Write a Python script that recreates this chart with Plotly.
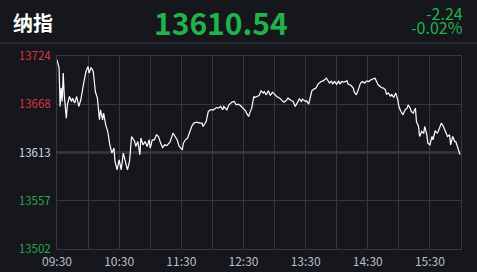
import pandas as pd
import plotly.graph_objects as go

title = "纳指"
last_price = "13610.54"
change = "-2.24"
change_pct = "-0.02%"
prev_close = 13612.78

times = [
    "09:30", "09:32", "09:33", "09:34", "09:35", "09:36", "09:37", "09:38", "09:39", "09:40",
    "09:42", "09:44", "09:45", "09:47", "09:49", "09:51", "09:53", "09:56", "09:58", "10:00",
    "10:01", "10:03", "10:05", "10:07", "10:09", "10:11", "10:12", "10:14", "10:15", "10:17",
    "10:19", "10:21", "10:23", "10:25", "10:26", "10:28", "10:30", "10:32", "10:34", "10:36",
    "10:38", "10:40", "10:42", "10:45", "10:46", "10:48", "10:50", "10:51", "10:53", "10:55",
    "10:57", "10:59", "11:00", "11:02", "11:04", "11:06", "11:08", "11:10", "11:12", "11:14",
    "11:16", "11:19", "11:21", "11:22", "11:24", "11:26", "11:28", "11:31", "11:32", "11:34",
    "11:36", "11:38", "11:40", "11:42", "11:45", "11:48", "11:50", "11:51", "11:54", "11:56",
    "11:58", "12:01", "12:04", "12:06", "12:08", "12:10", "12:11", "12:14", "12:16", "12:19",
    "12:21", "12:23", "12:25", "12:27", "12:30", "12:32", "12:33", "12:35", "12:36", "12:38",
    "12:40", "12:41", "12:43", "12:45", "12:47", "12:49", "12:50", "12:52", "12:54", "12:56",
    "12:58", "13:01", "13:02", "13:05", "13:07", "13:09", "13:11", "13:13", "13:16", "13:18",
    "13:20", "13:22", "13:24", "13:26", "13:27", "13:30", "13:31", "13:33", "13:35", "13:36",
    "13:38", "13:40", "13:42", "13:45", "13:47", "13:49", "13:50", "13:51", "13:53", "13:55",
    "13:56", "13:58", "14:00", "14:02", "14:03", "14:05", "14:07", "14:10", "14:11", "14:14",
    "14:16", "14:17", "14:19", "14:20", "14:22", "14:23", "14:25", "14:27", "14:29", "14:31",
    "14:33", "14:35", "14:37", "14:40", "14:43", "14:45", "14:47", "14:48", "14:50", "14:52",
    "14:53", "14:55", "14:57", "14:59", "15:00", "15:02", "15:04", "15:06", "15:08", "15:09",
    "15:11", "15:12", "15:14", "15:16", "15:17", "15:19", "15:20", "15:22", "15:24", "15:25",
    "15:27", "15:28", "15:30", "15:32", "15:33", "15:35", "15:37", "15:38", "15:40", "15:41",
    "15:43", "15:45", "15:47", "15:49", "15:50", "15:52", "15:54", "15:55", "15:56", "15:58",
    "15:59",
]

values = [
    13719.4, 13709.9, 13665.7, 13687.2, 13671.4, 13704.1, 13679.1, 13664.2, 13652.3, 13667.6,
    13677.2, 13671.4, 13675.3, 13669.6, 13677.2, 13665.7, 13673.4, 13694.4, 13705.9, 13711.7,
    13704.1, 13710.5, 13705.9, 13682.9, 13675.3, 13650.4, 13661.9, 13650.4, 13658.1, 13644.6,
    13636.9, 13621.6, 13612.1, 13617.8, 13602.4, 13592.9, 13604.4, 13592.9, 13612.1, 13602.4,
    13592.9, 13602.4, 13631.2, 13625.4, 13619.7, 13625.4, 13610.1, 13629.3, 13621.6, 13625.4,
    13619.7, 13627.4, 13617.8, 13627.4, 13627.4, 13633.1, 13631.2, 13623.6, 13618.5, 13621.6,
    13620.8, 13624.7, 13633.1, 13635.1, 13631.2, 13627.4, 13619.7, 13615.9, 13623.6, 13627.4,
    13629.3, 13636.9, 13642.7, 13646.6, 13647.7, 13646.6, 13646.6, 13642.7, 13648.4, 13659.9,
    13661.9, 13661.9, 13664.5, 13663.8, 13665.7, 13661.9, 13665.7, 13661.9, 13667.6, 13670.7,
    13671.4, 13667.6, 13668.4, 13666.8, 13663.8, 13660.7, 13658.1, 13654.2, 13658.1, 13663.8,
    13677.2, 13676.0, 13677.2, 13678.3, 13683.7, 13681.1, 13682.9, 13679.1, 13683.7, 13678.3,
    13682.2, 13679.1, 13677.2, 13675.3, 13673.4, 13670.7, 13672.2, 13675.3, 13672.6, 13671.4,
    13665.7, 13669.6, 13674.5, 13671.4, 13674.2, 13671.4, 13672.2, 13668.4, 13677.2, 13683.7,
    13685.7, 13686.8, 13691.4, 13694.4, 13695.2, 13697.5, 13698.3, 13696.4, 13692.6, 13695.2,
    13691.4, 13694.4, 13691.4, 13695.2, 13691.4, 13694.4, 13693.7, 13695.2, 13691.4, 13689.8,
    13686.8, 13682.2, 13679.1, 13682.2, 13688.7, 13692.6, 13694.4, 13692.6, 13695.2, 13694.4,
    13696.4, 13697.5, 13698.3, 13690.7, 13687.5, 13686.8, 13684.9, 13679.9, 13681.1, 13677.2,
    13679.9, 13676.0, 13681.1, 13673.4, 13665.7, 13659.9, 13656.1, 13661.9, 13663.8, 13667.6,
    13663.8, 13659.9, 13658.1, 13663.8, 13648.4, 13642.7, 13631.2, 13636.9, 13635.1, 13642.7,
    13633.1, 13623.6, 13621.6, 13631.2, 13627.4, 13637.8, 13635.1, 13636.9, 13642.7, 13646.6,
    13642.7, 13636.9, 13631.2, 13633.1, 13621.6, 13631.2, 13625.4, 13625.4, 13621.6, 13615.9,
    13610.54,
]

y_ticks = [13501.78, 13557.28, 13612.78, 13668.28, 13723.78]
y_tick_labels = ["13502", "13557", "13613", "13668", "13724"]
y_tick_colors = ["#2aa552", "#2aa552", "#d4dbe6", "#d8353f", "#d8353f"]

x_grid_times = ["09:30", "10:00", "10:30", "11:00", "11:30", "12:00", "12:30", "13:00",
                "13:30", "14:00", "14:30", "15:00", "15:30", "16:00"]
x_tick_labels = ["09:30", "", "10:30", "", "11:30", "", "12:30", "", "13:30", "", "14:30", "",
                 "15:30", ""]

DAY = "2023-06-01 "
xs = pd.to_datetime([DAY + t for t in times])
xgrid = pd.to_datetime([DAY + t for t in x_grid_times])

BG = "#15171c"
GRID = "#35383e"
FONT = "Noto Sans CJK SC"
GREEN = "#22b24c"

fig = go.Figure()
fig.add_trace(go.Scatter(x=xs, y=values, mode="lines",
                         line=dict(color="#ffffff", width=1.2), hoverinfo="skip"))

fig.update_layout(
    width=477, height=272,
    margin=dict(l=57, r=16, t=56, b=23),
    paper_bgcolor=BG, plot_bgcolor=BG,
    showlegend=False,
    font=dict(family=FONT),
    xaxis=dict(
        type="date", automargin=False,
        range=[xgrid[0], xgrid[-1]],
        tickvals=list(xgrid), ticktext=x_tick_labels,
        showgrid=True, gridcolor=GRID, gridwidth=1,
        showline=True, linecolor=GRID, linewidth=1, mirror=True,
        zeroline=False, ticks="", ticklabelstandoff=2,
        tickfont=dict(family=FONT, size=12, color="#b9bec7"),
    ),
    yaxis=dict(
        automargin=False,
        range=[y_ticks[0], y_ticks[-1]],
        tickvals=y_ticks,
        ticktext=[f'<span style="color:{c}">{t}</span>' for t, c in zip(y_tick_labels, y_tick_colors)],
        showgrid=True, gridcolor=GRID, gridwidth=1,
        showline=True, linecolor=GRID, linewidth=1, mirror=True,
        zeroline=False, ticks="", ticklabelstandoff=3,
        tickfont=dict(family=FONT, size=11.5, color="#d4dbe6"),
    ),
)

# previous close line
fig.add_shape(type="line", xref="paper", yref="y", x0=0, x1=1, y0=prev_close, y1=prev_close,
              line=dict(color="#4a4d53", width=2), layer="below")

# header separator
fig.add_shape(type="line", xref="paper", yref="paper",
              x0=(0 - 57) / 404, x1=(477 - 57) / 404,
              y0=(249 - 43) / 193, y1=(249 - 43) / 193,
              line=dict(color="#3a3d43", width=1))

def px(xp):
    return (xp - 57) / 404

def py(yp):
    return (249 - yp) / 193

fig.add_annotation(text=f"<b>{title}</b>", xref="paper", yref="paper",
                   x=px(11), y=py(22), xanchor="left", yanchor="middle", showarrow=False,
                   font=dict(family=FONT, size=20, color="#ffffff"))
fig.add_annotation(text=f"<b>{last_price}</b>", xref="paper", yref="paper",
                   x=px(220.5), y=py(21.5), xanchor="center", yanchor="middle", showarrow=False,
                   font=dict(family=FONT, size=30, color=GREEN))
fig.add_annotation(text=change, xref="paper", yref="paper",
                   x=px(465), y=py(13), xanchor="right", yanchor="middle", showarrow=False,
                   height=14, valign="middle",
                   font=dict(family=FONT, size=16, color=GREEN))
fig.add_annotation(text=change_pct, xref="paper", yref="paper",
                   x=px(465), y=py(27.5), xanchor="right", yanchor="middle", showarrow=False,
                   height=14, valign="middle",
                   font=dict(family=FONT, size=16, color=GREEN))

fig.write_html("out.html", config={"displayModeBar": False})
